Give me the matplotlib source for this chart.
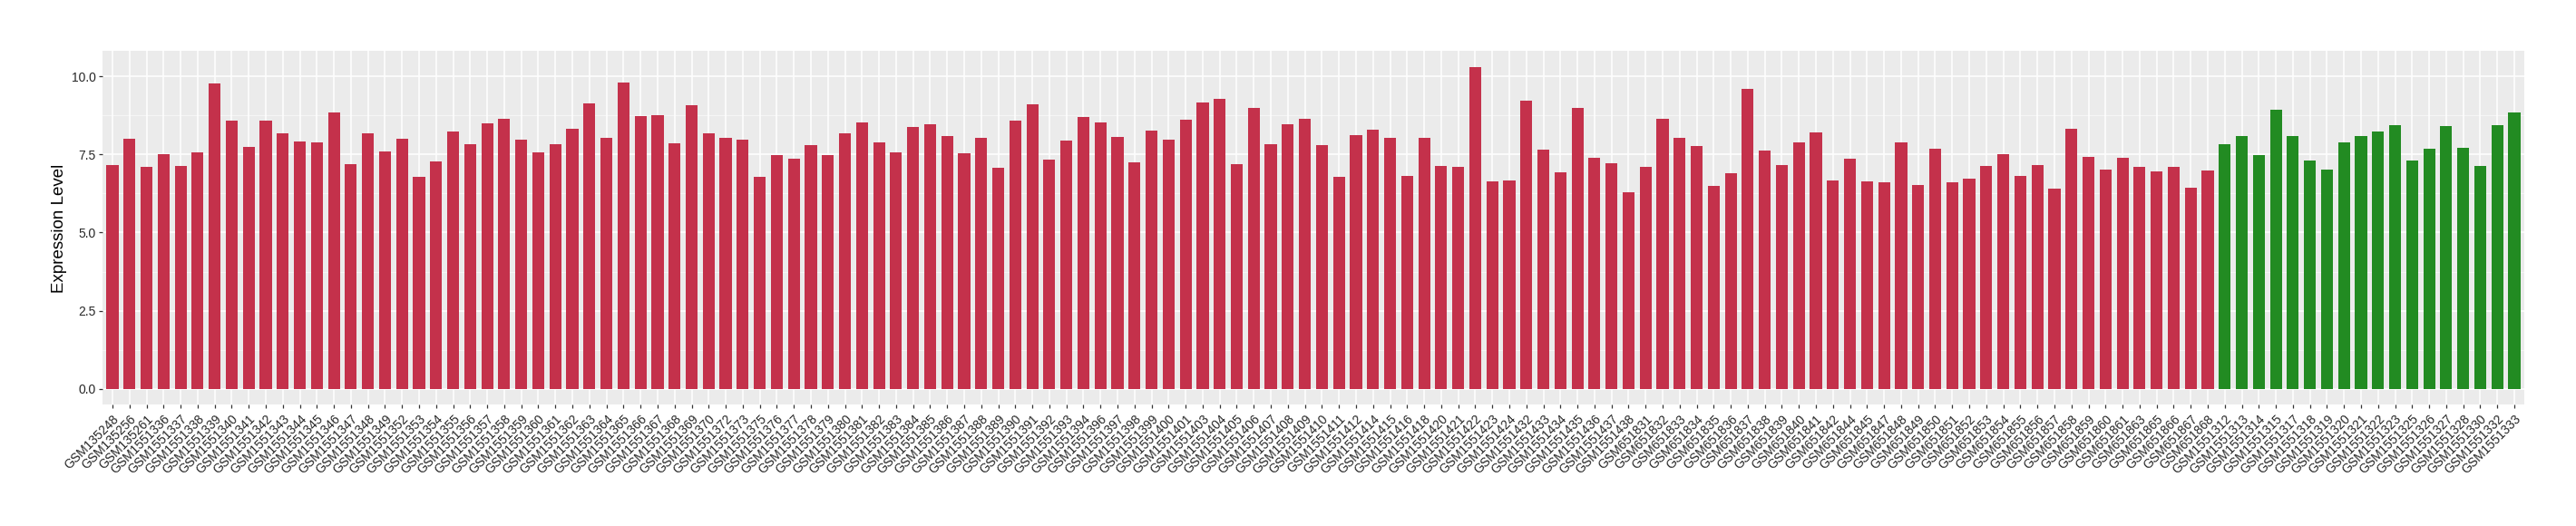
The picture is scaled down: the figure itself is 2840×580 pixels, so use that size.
import matplotlib
matplotlib.use("Agg")
import matplotlib.pyplot as plt
import numpy as np

plt.rcParams['font.family'] = ['Liberation Sans', 'DejaVu Sans']

red_samples = [
    "GSM135248", "GSM135256", "GSM135261", "GSM1551336", "GSM1551337", "GSM1551338",
    "GSM1551339", "GSM1551340", "GSM1551341", "GSM1551342", "GSM1551343", "GSM1551344",
    "GSM1551345", "GSM1551346", "GSM1551347", "GSM1551348", "GSM1551349", "GSM1551352",
    "GSM1551353", "GSM1551354", "GSM1551355", "GSM1551356", "GSM1551357", "GSM1551358",
    "GSM1551359", "GSM1551360", "GSM1551361", "GSM1551362", "GSM1551363", "GSM1551364",
    "GSM1551365", "GSM1551366", "GSM1551367", "GSM1551368", "GSM1551369", "GSM1551370",
    "GSM1551372", "GSM1551373", "GSM1551375", "GSM1551376", "GSM1551377", "GSM1551378",
    "GSM1551379", "GSM1551380", "GSM1551381", "GSM1551382", "GSM1551383", "GSM1551384",
    "GSM1551385", "GSM1551386", "GSM1551387", "GSM1551388", "GSM1551389", "GSM1551390",
    "GSM1551391", "GSM1551392", "GSM1551393", "GSM1551394", "GSM1551396", "GSM1551397",
    "GSM1551398", "GSM1551399", "GSM1551400", "GSM1551401", "GSM1551403", "GSM1551404",
    "GSM1551405", "GSM1551406", "GSM1551407", "GSM1551408", "GSM1551409", "GSM1551410",
    "GSM1551411", "GSM1551412", "GSM1551414", "GSM1551415", "GSM1551416", "GSM1551418",
    "GSM1551420", "GSM1551421", "GSM1551422", "GSM1551423", "GSM1551424", "GSM1551432",
    "GSM1551433", "GSM1551434", "GSM1551435", "GSM1551436", "GSM1551437", "GSM1551438",
    "GSM651831", "GSM651832", "GSM651833", "GSM651834", "GSM651835", "GSM651836",
    "GSM651837", "GSM651838", "GSM651839", "GSM651840", "GSM651841", "GSM651842",
    "GSM651844", "GSM651845", "GSM651847", "GSM651848", "GSM651849", "GSM651850",
    "GSM651851", "GSM651852", "GSM651853", "GSM651854", "GSM651855", "GSM651856",
    "GSM651857", "GSM651858", "GSM651859", "GSM651860", "GSM651861", "GSM651863",
    "GSM651865", "GSM651866", "GSM651867", "GSM651868",
]
red_values = [
    7.16, 8.00, 7.10, 7.51, 7.13, 7.56,
    9.77, 8.58, 7.74, 8.58, 8.17, 7.91,
    7.88, 8.84, 7.19, 8.17, 7.59, 8.00,
    6.78, 7.27, 8.23, 7.82, 8.49, 8.64,
    7.97, 7.56, 7.82, 8.32, 9.13, 8.03,
    9.80, 8.72, 8.75, 7.85, 9.07, 8.17,
    8.03, 7.97, 6.78, 7.48, 7.36, 7.80,
    7.48, 8.17, 8.52, 7.88, 7.56, 8.38,
    8.46, 8.09, 7.53, 8.03, 7.07, 8.58,
    9.10, 7.33, 7.94, 8.70, 8.52, 8.06,
    7.24, 8.26, 7.97, 8.61, 9.16, 9.28,
    7.19, 8.99, 7.82, 8.46, 8.64, 7.80,
    6.78, 8.11, 8.29, 8.03, 6.81, 8.03,
    7.13, 7.10, 10.29, 6.63, 6.66, 9.22,
    7.65, 6.92, 8.99, 7.39, 7.21, 6.29,
    7.10, 8.64, 8.03, 7.77, 6.49, 6.90,
    9.60, 7.62, 7.16, 7.88, 8.20, 6.66,
    7.36, 6.63, 6.61, 7.88, 6.52, 7.68,
    6.61, 6.72, 7.13, 7.51, 6.81, 7.16,
    6.40, 8.32, 7.42, 7.01, 7.39, 7.10,
    6.95, 7.10, 6.43, 6.98,
]
green_samples = [
    "GSM1551312", "GSM1551313", "GSM1551314", "GSM1551315", "GSM1551317", "GSM1551318",
    "GSM1551319", "GSM1551320", "GSM1551321", "GSM1551322", "GSM1551323", "GSM1551325",
    "GSM1551326", "GSM1551327", "GSM1551328", "GSM1551330", "GSM1551332", "GSM1551333",
]
green_values = [
    7.82, 8.09, 7.48, 8.93, 8.09, 7.30,
    7.01, 7.88, 8.09, 8.23, 8.43, 7.30,
    7.68, 8.41, 7.71, 7.13, 8.43, 8.84,
]

red_color = "#C4314B"
green_color = "#228B22"

labels = red_samples + green_samples
values = red_values + green_values
colors = [red_color] * len(red_samples) + [green_color] * len(green_samples)
x = np.arange(len(labels))

fig = plt.figure(figsize=(28.4, 5.8), dpi=100)
ax = fig.add_axes([0.03968, 0.2302, 0.94036, 0.6724])
ax.set_facecolor("#EBEBEB")

ax.bar(x, values, width=0.7, color=colors, zorder=3)

ax.set_xlim(-0.6, len(labels) - 1 + 0.6)
ax.set_ylim(-0.514, 10.80)
ax.set_yticks([0, 2.5, 5.0, 7.5, 10.0])
ax.set_yticklabels(["0.0", "2.5", "5.0", "7.5", "10.0"])
ax.set_yticks([1.25, 3.75, 6.25, 8.75], minor=True)
ax.set_xticks(x)
ax.set_xticklabels(labels, rotation=45, ha="right", va="top", rotation_mode="anchor")

ax.grid(which="major", color="white", linewidth=1.1, zorder=1)
ax.grid(which="minor", axis="y", color="white", linewidth=0.55, alpha=0.7, zorder=1)
ax.set_axisbelow(True)
for s in ax.spines.values():
    s.set_visible(False)

ax.tick_params(axis="both", which="major", length=3, width=0.9, color="#333333",
               labelsize=10, labelcolor="#262626", pad=2)
ax.tick_params(axis="y", which="minor", length=0)
ax.tick_params(axis="x", which="major", pad=3)

ax.set_ylabel("Expression Level", fontsize=13.5, color="black")
ax.yaxis.set_label_coords(-0.0145, 0.5)

fig.savefig("out.png", dpi=100, facecolor="white")
